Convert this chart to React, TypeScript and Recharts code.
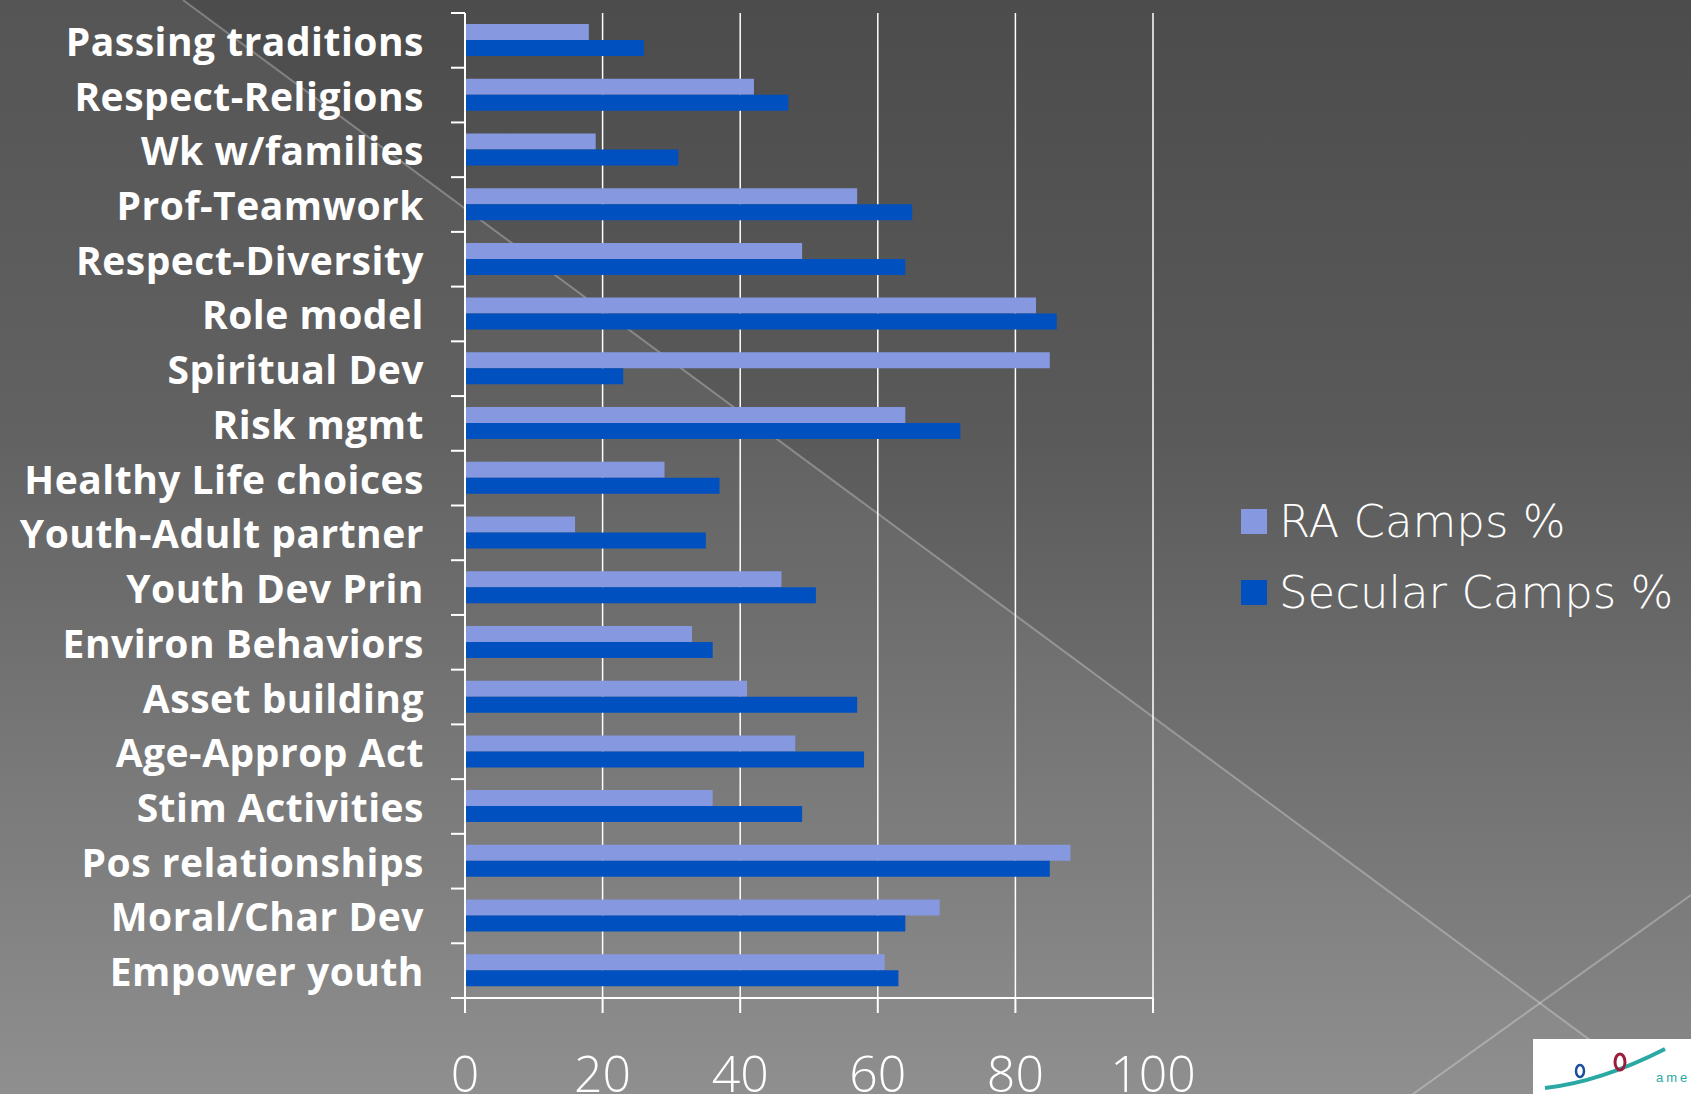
import React from 'react';
import { BarChart, Bar, XAxis, YAxis, CartesianGrid, Legend } from 'recharts';

const categories = [
  'Passing traditions',
  'Respect-Religions',
  'Wk w/families',
  'Prof-Teamwork',
  'Respect-Diversity',
  'Role model',
  'Spiritual Dev',
  'Risk mgmt',
  'Healthy Life choices',
  'Youth-Adult partner',
  'Youth Dev Prin',
  'Environ Behaviors',
  'Asset building',
  'Age-Approp Act',
  'Stim Activities',
  'Pos relationships',
  'Moral/Char Dev',
  'Empower youth',
];
const raCamps = [18, 42, 19, 57, 49, 83, 85, 64, 29, 16, 46, 33, 41, 48, 36, 88, 69, 61];
const secularCamps = [26, 47, 31, 65, 64, 86, 23, 72, 37, 35, 51, 36, 57, 58, 49, 85, 64, 63];
const xTicks = [0, 20, 40, 60, 80, 100];
const seriesNames = ['RA Camps %', 'Secular Camps %'];

const W = 1691;
const H = 1094;
const TOP = 13;
const X_AXIS_H = 96;
const Y_AXIS_W = 465;
const RA_COLOR = '#8598E0';
const SEC_COLOR = '#0050BF';

const data = categories.map((name, i) => ({
  name,
  ra: raCamps[i],
  sec: secularCamps[i],
}));

const band = (H - TOP - X_AXIS_H) / categories.length;

const CategoryTick = (props: any) => {
  const { y, payload, index } = props;
  const axisX = Y_AXIS_W;
  return (
    <g>
      <line x1={axisX - 14} x2={axisX} y1={y - band / 2} y2={y - band / 2} stroke="#fff" strokeWidth={2} />
      {index === categories.length - 1 && (
        <line x1={axisX - 14} x2={axisX} y1={y + band / 2} y2={y + band / 2} stroke="#fff" strokeWidth={2} />
      )}
      <text
        x={424}
        y={y}
        textAnchor="end"
        dominantBaseline="central"
        fill="#fff"
        fontFamily="'Open Sans', Lato, sans-serif"
        fontWeight={700}
        fontSize={39}
        letterSpacing={0.5}
      >
        {payload.value}
      </text>
    </g>
  );
};

const ValueTick = (props: any) => {
  const { x, payload } = props;
  return (
    <text
      x={x}
      y={1073}
      textAnchor="middle"
      dominantBaseline="central"
      fill="#fff"
      fontFamily="'Open Sans', Lato, sans-serif"
      fontWeight={300}
      fontSize={50}
    >
      {payload.value}
    </text>
  );
};

const LegendBox = () => (
  <div style={{ fontFamily: "'DejaVu Sans', 'Open Sans', sans-serif", fontWeight: 200, color: '#fff', fontSize: 45 }}>
    {seriesNames.map((n, i) => (
      <div key={n} style={{ display: 'flex', alignItems: 'center', height: 71 }}>
        <div style={{ width: 26, height: 25, background: i === 0 ? RA_COLOR : SEC_COLOR, marginRight: 12 }} />
        <span>{n}</span>
      </div>
    ))}
  </div>
);

export default function App() {
  return (
    <div
      style={{
        position: 'absolute',
        left: 0,
        top: 0,
        width: W,
        height: H,
        overflow: 'hidden',
        background: 'linear-gradient(to bottom, #4c4c4c 0%, #5a5a5a 40%, #898989 100%)',
      }}
    >
      <svg width={W} height={H} style={{ position: 'absolute', left: 0, top: 0 }}>
        <polygon points={`0,0 183,0 1663,${H} 0,${H}`} fill="rgba(255,255,255,0.05)" />
        <line x1={183} y1={0} x2={1663} y2={H} stroke="rgba(255,255,255,0.28)" strokeWidth={2} />
        <line x1={1413} y1={H} x2={W} y2={895} stroke="rgba(255,255,255,0.28)" strokeWidth={2} />
        <rect x={1533} y={1039} width={160} height={60} fill="#fff" />
        <path d="M1545,1088 Q1600,1082 1665,1049" stroke="#2aa8a4" strokeWidth={4} fill="none" />
        <ellipse cx={1580} cy={1071} rx={4} ry={6} stroke="#1b4f9c" strokeWidth={2.5} fill="none" />
        <ellipse cx={1620} cy={1062} rx={5} ry={8} stroke="#9b1c3c" strokeWidth={3} fill="none" />
        <text x={1656} y={1082} fill="#2aa8a4" fontSize={13} fontFamily="sans-serif" letterSpacing={3}>ame</text>
      </svg>
      <div style={{ position: 'absolute', left: 0, top: 0 }}>
        <BarChart
          width={W}
          height={H}
          data={data}
          layout="vertical"
          margin={{ top: TOP, right: W - 1153, left: 0, bottom: 0 }}
          barGap={0}
          barSize={16}
        >
          <CartesianGrid horizontal={false} vertical stroke="#fff" strokeWidth={1.5} />
          <XAxis
            type="number"
            domain={[0, 100]}
            ticks={xTicks}
            height={X_AXIS_H}
            axisLine={{ stroke: '#fff', strokeWidth: 2 }}
            tickLine={{ stroke: '#fff', strokeWidth: 2 }}
            tickSize={15}
            tick={<ValueTick />}
          />
          <YAxis
            type="category"
            dataKey="name"
            width={Y_AXIS_W}
            axisLine={{ stroke: '#fff', strokeWidth: 2 }}
            tickLine={false}
            interval={0}
            tick={<CategoryTick />}
          />
          <Legend
            layout="vertical"
            align="center"
            verticalAlign="middle"
            content={<LegendBox />}
            wrapperStyle={{ position: 'absolute', left: 1241, top: 486, width: 450 }}
          />
          <Bar dataKey="ra" name={seriesNames[0]} fill={RA_COLOR} isAnimationActive={false} />
          <Bar dataKey="sec" name={seriesNames[1]} fill={SEC_COLOR} isAnimationActive={false} />
        </BarChart>
      </div>
    </div>
  );
}
